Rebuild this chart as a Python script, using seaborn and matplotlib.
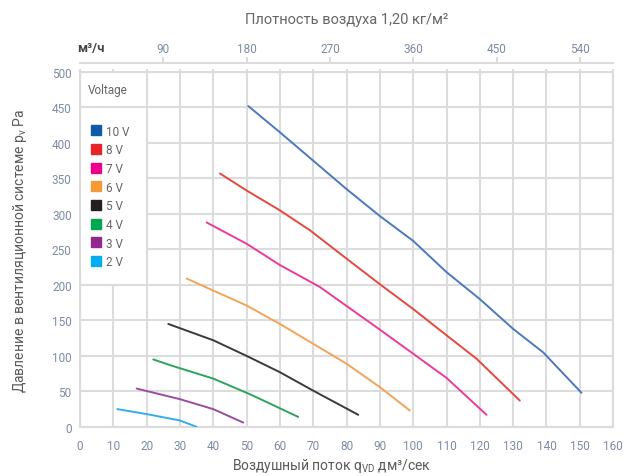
import pandas as pd
import seaborn as sns
import matplotlib.pyplot as plt
from matplotlib.lines import Line2D
from matplotlib.patches import Rectangle

# --- data (flow dm3/s, pressure Pa) ---
voltages = ['10 V', '8 V', '7 V', '6 V', '5 V', '4 V', '3 V', '2 V']

flow_10v = [50.5, 60, 70, 80, 90, 100, 110, 120, 130, 139, 150.5]
pres_10v = [452, 415, 375, 335, 297, 262, 218, 180, 138, 105, 48]

flow_8v = [42, 50, 60, 69, 80, 90, 100, 110, 119, 132]
pres_8v = [357, 333, 305, 277, 237, 201, 166, 129, 96, 37]

flow_7v = [38, 50, 60, 72, 90, 100, 110, 122]
pres_7v = [288, 258, 228, 197, 137, 103, 69, 17]

flow_6v = [32, 40, 50, 60, 70, 80, 90, 99]
pres_6v = [209, 192, 171, 145, 117, 89, 56, 23]

flow_5v = [26.5, 40, 50, 60, 70, 83.5]
pres_5v = [145, 122, 100, 77, 51, 17]

flow_4v = [22, 27, 40, 51, 65.5]
pres_4v = [95, 87, 68, 46, 14]

flow_3v = [17, 30, 40, 49]
pres_3v = [54, 39, 25, 6]

flow_2v = [11.2, 20, 30, 35]
pres_2v = [25, 18, 9, 0]

legend_colors = ['#0e5aa7', '#e52329', '#ec008c', '#f39a34', '#231f20', '#00a651', '#92278f', '#00aeef']
line_colors = ['#4d78bd', '#e5483f', '#ec3a9c', '#f4a457', '#3a3a3a', '#2da35c', '#9a4ca0', '#35aee8']

top_ticks = [90, 180, 270, 360, 450, 540]

flows = [flow_10v, flow_8v, flow_7v, flow_6v, flow_5v, flow_4v, flow_3v, flow_2v]
pressures = [pres_10v, pres_8v, pres_7v, pres_6v, pres_5v, pres_4v, pres_3v, pres_2v]

rows = []
for v, fl, pr in zip(voltages, flows, pressures):
    for f, p in zip(fl, pr):
        rows.append({'voltage': v, 'flow': f, 'pressure': p})
df = pd.DataFrame(rows)

sns.set_theme(style='white')
plt.rcParams['font.family'] = ['Roboto', 'DejaVu Sans']
plt.rcParams['mathtext.fontset'] = 'custom'
plt.rcParams['mathtext.rm'] = 'Roboto'

grid_c = '#dcdcdc'
tick_c = '#7d8ca3'
text_c = '#5a5a5a'

fig = plt.figure(figsize=(6.25, 4.77), dpi=100)
ax = fig.add_axes([0.128, 0.103, 0.853, 0.744])

sns.lineplot(data=df, x='flow', y='pressure', hue='voltage', hue_order=voltages,
             palette=dict(zip(voltages, line_colors)), sort=False, estimator=None,
             linewidth=1.4, legend=False, ax=ax, zorder=3)

ax.set_xlim(0, 160)
ax.set_ylim(0, 500)
ax.set_xticks(range(0, 161, 10))
ax.set_yticks(range(0, 501, 50))
ax.grid(True, color=grid_c, linewidth=1.5)
ax.set_axisbelow(True)
for s in ax.spines.values():
    s.set_color(grid_c)
    s.set_linewidth(1.5)

ax.tick_params(axis='both', length=0, labelsize=8.5, labelcolor=tick_c, pad=6)
ax.tick_params(axis='x', top=True, length=2, color=grid_c, width=1.5, direction='out')
ax.tick_params(axis='x', bottom=False, pad=7)

ax.set_xlabel('Воздушный поток q$_\\mathregular{VD}$ дм³/сек', fontsize=10, color=text_c)
ax.set_ylabel('Давление в вентиляционной системе p$_\\mathregular{v}$ Pa', fontsize=10, color=text_c)
ax.xaxis.set_label_coords(0.473, -0.082)
ax.yaxis.set_label_coords(-0.095, 0.5)

# legend box (white panel over the grid)
ax.add_patch(Rectangle((0, 200), 20, 300, facecolor='white', edgecolor=grid_c,
                       linewidth=1.5, zorder=2))
ax.plot([0, 20], [450, 450], color=grid_c, linewidth=1.5, zorder=2)
ax.text(2.3, 476, 'Voltage', fontsize=8.5, color='#666666', va='center', zorder=4)

handles = [Line2D([0], [0], marker='s', linestyle='none', markersize=7.5,
                  markerfacecolor=c, markeredgecolor=c) for c in legend_colors]
leg = ax.legend(handles, voltages, loc='upper left', bbox_to_anchor=(0.022, 0.852),
                frameon=False, fontsize=8.5, labelspacing=0.48, handlelength=0.8,
                handletextpad=0.45, borderaxespad=0, borderpad=0)
for t in leg.get_texts():
    t.set_color('#666666')

# top axis in m3/h
secax = ax.secondary_xaxis(1.025, functions=(lambda x: x * 3.6, lambda x: x / 3.6))
secax.set_xticks(top_ticks)
secax.tick_params(length=4, color=grid_c, width=1.5, labelsize=8.5, labelcolor=tick_c, pad=1.5)
secax.spines['top'].set_color(grid_c)
secax.spines['top'].set_linewidth(1.5)
ax.text(-0.9, 1.07, 'м³/ч', transform=ax.get_xaxis_transform(), fontsize=9.5,
        color='#444444', fontweight='bold', ha='left', va='center')

fig.text(0.128 + 0.853 / 2, 1 - 20 / 477, 'Плотность воздуха 1,20 кг/м²',
         fontsize=10.5, color='#666666', ha='center', va='center')

plt.savefig('out.png', dpi=100)
